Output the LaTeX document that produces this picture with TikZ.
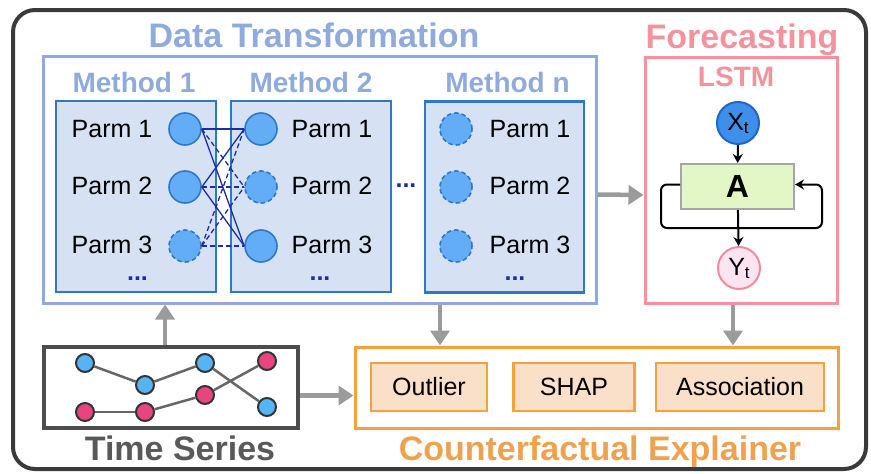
\documentclass[tikz,border=0pt]{standalone}
\usepackage{fontspec}
\setmainfont{Liberation Sans}
\usepackage{xcolor}
\usetikzlibrary{arrows.meta,positioning,calc}

\definecolor{framegray}{HTML}{3A3A3A}
\definecolor{dtblue}{HTML}{8FAADC}
\definecolor{mblue}{HTML}{2E78C8}
\definecolor{mfill}{HTML}{D6E2F4}
\definecolor{pfill}{HTML}{63ADF7}
\definecolor{linkblue}{HTML}{1C2DA6}
\definecolor{fcpink}{HTML}{F4939E}
\definecolor{xtfill}{HTML}{3E8FEA}
\definecolor{xtdraw}{HTML}{1F66C8}
\definecolor{afill}{HTML}{E3F6C5}
\definecolor{adraw}{HTML}{A6A6A6}
\definecolor{ytfill}{HTML}{FCE4F0}
\definecolor{ytdraw}{HTML}{F08C9C}
\definecolor{arrowgray}{HTML}{9B9B9B}
\definecolor{tsgray}{HTML}{4D4D4D}
\definecolor{tstext}{HTML}{595959}
\definecolor{tsblue}{HTML}{56B4F4}
\definecolor{tspink}{HTML}{E84580}
\definecolor{cforange}{HTML}{F7A13E}
\definecolor{cffill}{HTML}{FBE0C9}
\definecolor{cftext}{HTML}{F0A14E}

\tikzset{
  frame/.style={draw=framegray, line width=4pt, rounded corners=22pt},
  dtbox/.style={draw=dtblue, line width=3pt},
  mbox/.style={draw=mblue, fill=mfill, line width=2.5pt, minimum height=191pt},
  parm/.style={circle, draw=mblue, fill=pfill, line width=1.6pt, minimum size=32pt, inner sep=0pt},
  maybe/.style={parm, dash pattern=on 4.5pt off 3pt},
  lbl/.style={inner sep=0pt, text depth=0pt},
  headline/.style={lbl, font=\fontsize{34}{40}\selectfont\bfseries},
  mlabel/.style={lbl, text=dtblue, font=\fontsize{28}{32}\selectfont\bfseries},
  ellip/.style={inner sep=0pt, anchor=base, text=linkblue, font=\fontsize{25}{30}\selectfont\bfseries},
  link/.style={draw=linkblue, line width=1.3pt},
  maybelink/.style={link, dash pattern=on 5pt off 3pt},
  flow/.style={draw=arrowgray, line width=4.5pt, -{Triangle[length=15pt,width=19pt]}},
  cell/.style={draw=black, line width=2pt, -{Stealth[length=9pt,width=10pt]}},
  tsdot/.style={circle, draw=black!80, line width=2pt, minimum size=18pt, inner sep=0pt},
  tsline/.style={draw=black!60, line width=2.5pt},
  explbox/.style={draw=cforange, fill=cffill, line width=2.5pt, minimum height=48pt, inner sep=0pt},
}

\begin{document}
\begin{tikzpicture}[x=1pt,y=-1pt,font=\fontsize{25}{30}\selectfont]
  \useasboundingbox (0,0) rectangle (871,474);
  \node[frame, minimum width=853pt, minimum height=459pt] (all) at (439.5,239.5) {};

  % data transformation
  \node[dtbox, minimum width=553pt, minimum height=247pt] (dt) at (319.5,179.5) {};
  \node[headline, text=dtblue] (dtt) at (314,35) {Data Transformation};
  \node[mbox, minimum width=160pt] (m1) at (136,196.5) {};
  \node[mbox, minimum width=160pt] (m2) at (311,196.5) {};
  \node[mbox, minimum width=159pt] (mn) at (504.5,197) {};
  \node[mlabel] (m1l) at (134,82.5) {Method 1};
  \node[mlabel] (m2l) at (311,82.5) {Method 2};
  \node[mlabel] (mnl) at (507.5,82.5) {Method n};
  \foreach \i/\y in {1/128.5,2/186,3/244.5} {
    \node[lbl] (m1t\i) at (112,\y) {Parm \i};
    \node[lbl] (m2t\i) at (332,\y) {Parm \i};
    \node[lbl] (mnt\i) at (530,\y) {Parm \i};
  }
  \node[parm] (m1p1) at (185,129) {};
  \node[parm] (m1p2) at (185,187) {};
  \node[maybe] (m1p3) at (185,246) {};
  \node[parm] (m2p1) at (261,129) {};
  \node[maybe] (m2p2) at (261,187) {};
  \node[parm] (m2p3) at (261,246) {};
  \foreach \i/\y in {1/129,2/187,3/246} \node[maybe] (mnp\i) at (456,\y) {};
  \foreach \a/\b in {1/1,1/3,2/1,2/3} \draw[link] (m1p\a.east) -- (m2p\b.west);
  \foreach \a/\b in {1/2,2/2,3/1,3/2,3/3} \draw[maybelink] (m1p\a.east) -- (m2p\b.west);
  \node[ellip] (m1d) at (137.5,280) {...};
  \node[ellip] (m2d) at (320,280) {...};
  \node[ellip] (mnd) at (515,280) {...};
  \node[ellip] (gapd) at (406,187) {...};

  % forecasting
  \node[dtbox, draw=fcpink, minimum width=192pt, minimum height=246pt] (fc) at (741,180) {};
  \node[headline, text=fcpink] (fct) at (742,36) {Forecasting};
  \node[mlabel, text=fcpink] (lstm) at (736,77) {LSTM};
  \node[circle, draw=xtdraw, fill=xtfill, line width=2pt, minimum size=42pt, inner sep=0pt] (xt) at (738,123)
    {X\raisebox{-3pt}{\fontsize{17}{17}\selectfont t}};
  \node[draw=adraw, fill=afill, line width=2pt, minimum width=113pt, minimum height=45pt,
    font=\fontsize{32}{36}\selectfont\bfseries] (a) at (737.5,186.5) {A};
  \node[circle, draw=ytdraw, fill=ytfill, line width=2pt, minimum size=42pt, inner sep=0pt] (yt) at (739,268)
    {Y\raisebox{-3pt}{\fontsize{17}{17}\selectfont t}};
  \draw[cell] (xt) -- (a);
  \draw[cell] (a) -- (yt);
  \draw[cell, rounded corners=6pt] ([yshift=2pt]a.west) -- ++(-19,0) -- ++(0,43.5) -- ++(161,0)
    -- ++(0,-43.5) -- ([yshift=2pt]a.east);
  \draw[flow] ([yshift=-15pt]dt.east) -- ([yshift=-15pt]fc.west);

  % time series
  \node[draw=tsgray, line width=3.5pt, minimum width=254pt, minimum height=81pt] (ts) at (171,387.5) {};
  \node[headline, text=tstext] (tst) at (180,448) {Time Series};
  \foreach \i/\x/\y in {1/85/363,2/145/385,3/205/363,4/267/407}
    \node[tsdot, fill=tsblue] (b\i) at (\x,\y) {};
  \foreach \i/\x/\y in {1/85/412,2/145/412,3/205/395,4/267/361}
    \node[tsdot, fill=tspink] (r\i) at (\x,\y) {};
  \foreach \a/\b in {1/2,2/3,3/4} {
    \draw[tsline] (b\a) -- (b\b);
    \draw[tsline] (r\a) -- (r\b);
  }

  % counterfactual explainer
  \node[dtbox, draw=cforange, minimum width=483pt, minimum height=81pt] (ce) at (596.5,387.5) {};
  \node[headline, text=cftext] (cet) at (600,448) {Counterfactual Explainer};
  \node[explbox, minimum width=116pt] (outl) at (429,387) {Outlier};
  \node[explbox, minimum width=121pt] (shap) at (574,387) {SHAP};
  \node[explbox, minimum width=168pt] (assoc) at (740,387) {Association};

  \coordinate (tsup) at ($(ts.north)+(-6,0)$);
  \coordinate (dtdown) at ($(dt.south)+(120.5,0)$);
  \coordinate (fcdown) at ($(fc.south)+(-8,0)$);
  \draw[flow] (tsup) -- (tsup |- dt.south);
  \draw[flow] (dtdown) -- (dtdown |- ce.north);
  \draw[flow] (fcdown) -- (fcdown |- ce.north);
  \draw[flow] ([yshift=-8pt]ts.east) -- ([yshift=-8pt]ce.west);
\end{tikzpicture}
\end{document}
